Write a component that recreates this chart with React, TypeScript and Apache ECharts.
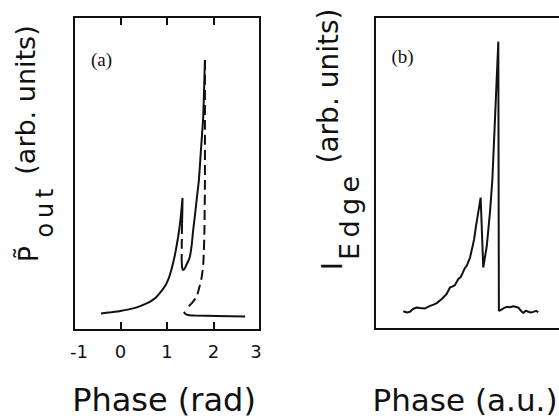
import React, { useEffect, useRef } from "react";
import * as echarts from "echarts";

// Panel (a): calculated output power vs phase (rad)
const aXTicks = [-1, 0, 1, 2, 3];
const aUpperRise: [number, number][] = [
  [-0.42, 5.3], [-0.2, 5.7], [0.0, 6.1], [0.27, 6.9], [0.45, 7.8], [0.63, 9.0],
  [0.75, 10.2], [0.84, 11.7], [0.92, 13.2], [0.99, 14.9], [1.06, 17.5], [1.13, 21.3],
  [1.19, 25.5], [1.24, 29.8], [1.28, 34.0], [1.31, 38.3], [1.334, 42.2], [1.33, 38.0], [1.323, 33.9],
];
const aSmallUnstable: [number, number][] = [[1.323, 33.9], [1.318, 28.0], [1.315, 22.4]];
const aSecondRise: [number, number][] = [
  [1.315, 22.4], [1.325, 20.0], [1.347, 19.2], [1.375, 19.5], [1.405, 20.4], [1.45, 21.8],
  [1.492, 23.4], [1.53, 27.0], [1.563, 31.9], [1.6, 36.5], [1.637, 41.5], [1.686, 47.9],
  [1.73, 57.5], [1.779, 68.1], [1.816, 86.3],
];
const aBigUnstable: [number, number][] = [
  [1.816, 86.3], [1.816, 67.1], [1.816, 47.9], [1.805, 31.9], [1.792, 25.0], [1.779, 20.8],
  [1.745, 16.8], [1.708, 14.4], [1.637, 10.6], [1.535, 8.6], [1.455, 7.4],
];
const aLowerBranch: [number, number][] = [
  [1.362, 5.8], [1.4, 5.1], [1.455, 4.8], [1.6, 4.6], [2.07, 4.5], [2.68, 4.3],
];

// Panel (b): measured edge intensity vs phase (a.u.)
const bEdge: [number, number][] = [
  [15.2, 5.7], [17.2, 5.3], [18.8, 5.5], [20.4, 6.4], [22.4, 6.9], [24.2, 6.7], [26.9, 6.6],
  [29.6, 7.4], [31.5, 7.8], [33.2, 8.3], [35.9, 9.6], [38.5, 11.2], [40.3, 13.3], [41.5, 13.6],
  [43.0, 14.1], [44.8, 16.0], [46.0, 16.6], [47.1, 17.9], [48.3, 19.5], [49.3, 20.2], [51.1, 22.9],
  [52.5, 26.6], [53.3, 28.8], [54.3, 33.0], [55.5, 37.3], [56.8, 42.1], [58.2, 19.7], [60.1, 26.6],
  [61.8, 37.3], [63.1, 47.9], [64.5, 67.1], [66.3, 92.1], [66.6, 5.8], [67.7, 6.1], [69.0, 6.6],
  [70.8, 7.1], [72.5, 7.0], [74.4, 7.3], [77.0, 6.9], [78.5, 5.8], [79.7, 5.1], [81.2, 5.9],
  [82.4, 5.5], [83.9, 5.3], [85.1, 5.5], [86.6, 5.8], [87.8, 5.4],
];

const FONT = "DejaVu Sans";
const INK = "#111";

function rotText(text: string, x: number, y: number, size: number) {
  return {
    type: "text",
    x,
    y,
    rotation: Math.PI / 2,
    style: {
      text,
      fontSize: size,
      fontFamily: FONT,
      fill: INK,
      align: "center",
      verticalAlign: "middle",
      textAlign: "center",
      textVerticalAlign: "middle",
    },
  };
}

function hText(text: string, x: number, y: number, size: number, family = FONT) {
  return {
    type: "text",
    x,
    y,
    style: {
      text,
      fontSize: size,
      fontFamily: family,
      fill: INK,
      align: "center",
      verticalAlign: "middle",
      textAlign: "center",
      textVerticalAlign: "middle",
    },
  };
}

export default function App() {
  const ref = useRef<HTMLDivElement>(null);
  useEffect(() => {
    if (!ref.current) return;
    const chart = echarts.init(ref.current, undefined, { renderer: "svg" });
    const lineBase = (data: [number, number][], dashed: boolean, xi: number, yi: number) => ({
      type: "line",
      data,
      xAxisIndex: xi,
      yAxisIndex: yi,
      showSymbol: false,
      symbol: "none",
      smooth: 0.15,
      lineStyle: { color: INK, width: 2, type: dashed ? [10, 5] : "solid" },
      z: 3,
    });
    const tickLabel = {
      fontSize: 18,
      fontFamily: FONT,
      color: INK,
      margin: 12,
      formatter: (v: number) => (v === -1 ? "{l|-1}" : v === 3 ? "{r|3}" : String(v)),
      rich: {
        l: { fontSize: 18, fontFamily: FONT, color: INK, padding: [0, 0, 0, 10] },
        r: { fontSize: 18, fontFamily: FONT, color: INK, padding: [0, 8, 0, 0] },
      },
    };
    chart.setOption({
      animation: false,
      backgroundColor: "#fff",
      grid: [
        { left: 74, top: 17, width: 186, height: 313, show: true, borderColor: INK, borderWidth: 2, backgroundColor: "transparent" },
        { left: 375, top: 17, width: 186, height: 312, show: true, borderColor: INK, borderWidth: 2, backgroundColor: "transparent" },
      ],
      xAxis: [
        {
          type: "value", gridIndex: 0, min: aXTicks[0], max: aXTicks[aXTicks.length - 1], interval: 1,
          position: "bottom",
          axisLine: { show: false },
          axisTick: { show: true, inside: true, length: 8, lineStyle: { color: INK, width: 2 } },
          axisLabel: tickLabel,
          splitLine: { show: false },
        },
        {
          type: "value", gridIndex: 0, min: aXTicks[0], max: aXTicks[aXTicks.length - 1], interval: 1,
          position: "top",
          axisLine: { show: false },
          axisTick: { show: true, inside: true, length: 8, lineStyle: { color: INK, width: 2 } },
          axisLabel: { show: false },
          splitLine: { show: false },
        },
        {
          type: "value", gridIndex: 1, min: 0, max: 100,
          axisLine: { show: false }, axisTick: { show: false }, axisLabel: { show: false }, splitLine: { show: false },
        },
      ],
      yAxis: [
        { type: "value", gridIndex: 0, min: 0, max: 100, axisLine: { show: false }, axisTick: { show: false }, axisLabel: { show: false }, splitLine: { show: false } },
        { type: "value", gridIndex: 1, min: 0, max: 100, axisLine: { show: false }, axisTick: { show: false }, axisLabel: { show: false }, splitLine: { show: false } },
      ],
      series: [
        lineBase(aUpperRise, false, 0, 0),
        lineBase(aSmallUnstable, true, 0, 0),
        lineBase(aSecondRise, false, 0, 0),
        lineBase(aBigUnstable, true, 0, 0),
        lineBase(aLowerBranch, false, 0, 0),
        { ...lineBase(bEdge, false, 2, 1), smooth: false },
      ],
      graphic: [
        rotText("(arb. units)", 25, 100, 27),
        rotText("o\u2009u\u2009t", 45, 213, 24),
        rotText("P\u0303", 28, 254, 27),
        rotText("(arb. units)", 328, 86, 28),
        rotText("E\u2009d\u2009g\u2009e", 349, 218, 27),
        rotText("I", 332, 266, 28),
        hText("Phase (rad)", 164, 400, 32),
        hText("Phase (a.u.)", 465, 400, 31),
        hText("(a)", 101.5, 59, 19, "Liberation Serif"),
        hText("(b)", 402.5, 56, 19, "Liberation Serif"),
      ],
    });
    return () => chart.dispose();
  }, []);
  return (
    <div style={{ position: "fixed", left: 0, top: 0, width: 559, height: 419, overflow: "hidden", background: "#fff" }}>
      <div ref={ref} style={{ width: 600, height: 419 }} />
    </div>
  );
}
